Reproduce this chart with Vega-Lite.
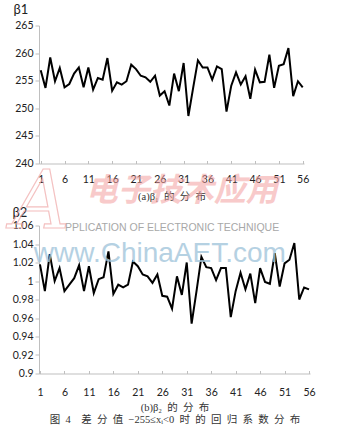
{
  "$schema": "https://vega.github.io/schema/vega-lite/v6.json",
  "background": "white",
  "padding": {"left": 12, "top": 3.5, "right": 5, "bottom": 5},
  "bounds": "flush",
  "spacing": 62,
  "datasets": {
    "b1": [
      {"i":1,"v":256.9},{"i":2,"v":253.7},{"i":3,"v":259.2},{"i":4,"v":254.9},{"i":5,"v":257.3},{"i":6,"v":253.8},{"i":7,"v":254.4},{"i":8,"v":256.3},
      {"i":9,"v":257.4},{"i":10,"v":253.8},{"i":11,"v":257.4},{"i":12,"v":253.4},{"i":13,"v":255.5},{"i":14,"v":255.2},{"i":15,"v":259.1},{"i":16,"v":253.2},
      {"i":17,"v":254.7},{"i":18,"v":254.3},{"i":19,"v":254.9},{"i":20,"v":257.9},{"i":21,"v":257.1},{"i":22,"v":255.9},{"i":23,"v":255.6},{"i":24,"v":254.8},
      {"i":25,"v":255.9},{"i":26,"v":252.3},{"i":27,"v":253.1},{"i":28,"v":250.5},{"i":29,"v":256.3},{"i":30,"v":253.1},{"i":31,"v":258.2},{"i":32,"v":248.6},
      {"i":33,"v":253.7},{"i":34,"v":258.7},{"i":35,"v":257.4},{"i":36,"v":257.4},{"i":37,"v":255.2},{"i":38,"v":257.6},{"i":39,"v":257.1},{"i":40,"v":249.4},
      {"i":41,"v":254.1},{"i":42,"v":256.5},{"i":43,"v":254.3},{"i":44,"v":255.8},{"i":45,"v":251.7},{"i":46,"v":257.0},{"i":47,"v":254.7},{"i":48,"v":254.8},
      {"i":49,"v":259.7},{"i":50,"v":253.7},{"i":51,"v":257.7},{"i":52,"v":258.0},{"i":53,"v":260.9},{"i":54,"v":252.2},{"i":55,"v":254.9},{"i":56,"v":253.8}
    ],
    "b2": [
      {"i":1,"v":1.018},{"i":2,"v":0.989},{"i":3,"v":1.029},{"i":4,"v":1.000},{"i":5,"v":1.014},{"i":6,"v":0.989},{"i":7,"v":0.996},{"i":8,"v":1.003},
      {"i":9,"v":1.017},{"i":10,"v":0.989},{"i":11,"v":1.016},{"i":12,"v":0.987},{"i":13,"v":1.002},{"i":14,"v":1.004},{"i":15,"v":1.032},{"i":16,"v":0.986},
      {"i":17,"v":0.996},{"i":18,"v":0.993},{"i":19,"v":0.996},{"i":20,"v":1.021},{"i":21,"v":1.016},{"i":22,"v":1.007},{"i":23,"v":1.005},{"i":24,"v":0.998},
      {"i":25,"v":1.007},{"i":26,"v":0.984},{"i":27,"v":0.983},{"i":28,"v":0.970},{"i":29,"v":1.005},{"i":30,"v":0.985},{"i":31,"v":1.020},{"i":32,"v":0.954},
      {"i":33,"v":0.989},{"i":34,"v":1.026},{"i":35,"v":1.015},{"i":36,"v":1.014},{"i":37,"v":1.001},{"i":38,"v":1.014},{"i":39,"v":1.014},{"i":40,"v":0.961},
      {"i":41,"v":0.989},{"i":42,"v":1.009},{"i":43,"v":0.991},{"i":44,"v":1.008},{"i":45,"v":0.976},{"i":46,"v":1.014},{"i":47,"v":0.999},{"i":48,"v":0.997},
      {"i":49,"v":1.030},{"i":50,"v":0.994},{"i":51,"v":1.019},{"i":52,"v":1.023},{"i":53,"v":1.041},{"i":54,"v":0.980},{"i":55,"v":0.993},{"i":56,"v":0.991}
    ]
  },
  "vconcat": [
    {
      "width": 265,
      "height": 138,
      "layer": [
        {
          "data": {"name": "b1"},
          "mark": {"type": "line", "color": "#000000", "strokeWidth": 2},
          "encoding": {
            "x": {
              "field": "i", "type": "quantitative",
              "scale": {"domain": [0.64, 56.27], "nice": false, "zero": false},
              "axis": {"values": [1, 6, 11, 16, 21, 26, 31, 36, 41, 46, 51, 56], "tickCount": 100, "format": "d", "tickSize": -3, "labelPadding": 14, "labelOverlap": false,
                       "title": "(a)β₁\u2002的\u2002分\u2002布", "titlePadding": 6}
            },
            "y": {
              "field": "v", "type": "quantitative",
              "scale": {"domain": [240, 265], "nice": false, "zero": false},
              "axis": {"values": [240, 245, 250, 255, 260, 265], "tickCount": 100, "format": "d", "labelOverlap": false, "title": "β1",
                       "titleAngle": 0, "titleAlign": "left", "titleBaseline": "middle", "titleX": -26, "titleY": -16,
                       "titleFont": "Lato", "titleFontSize": 13, "titleColor": "#222"}
            }
          }
        },
        {
          "data": {"values": [{}]},
          "mark": {"type": "text", "font": "Noto Sans CJK SC", "fontSize": 32, "fontWeight": "bold", "fontStyle": "italic", "color": "#f3a0a0", "opacity": 0.55, "align": "center", "baseline": "middle"},
          "encoding": {
            "x": {"datum": 30.6, "type": "quantitative"},
            "y": {"datum": 235.0, "type": "quantitative"},
            "text": {"value": "电子技术应用"}
          }
        }
      ]
    },
    {
      "width": 271,
      "height": 148,
      "layer": [
        {
          "data": {"name": "b2"},
          "mark": {"type": "line", "color": "#000000", "strokeWidth": 2},
          "encoding": {
            "x": {
              "field": "i", "type": "quantitative",
              "scale": {"domain": [0.8, 56.2], "nice": false, "zero": false},
              "axis": {"values": [1, 6, 11, 16, 21, 26, 31, 36, 41, 46, 51, 56], "tickCount": 100, "format": "d", "tickSize": -3, "labelPadding": 17, "labelOverlap": false,
                       "title": ["(b)β₂\u2002的\u2002分\u2002布", "图\u20024\u2002\u2002差\u2002分\u2002值\u2002−255≤xᵢ<0\u2002时\u2002的\u2002回\u2002归\u2002系\u2002数\u2002分\u2002布"], "titlePadding": 4, "titleLineHeight": 12}
            },
            "y": {
              "field": "v", "type": "quantitative",
              "scale": {"domain": [0.9, 1.06], "nice": false, "zero": false},
              "axis": {"values": [0.9, 0.92, 0.94, 0.96, 0.98, 1, 1.02, 1.04, 1.06], "tickCount": 100, "format": "~g", "labelOverlap": false, "title": "β2",
                       "titleAngle": 0, "titleAlign": "left", "titleBaseline": "middle", "titleX": -27, "titleY": -13,
                       "titleFont": "Lato", "titleFontSize": 13, "titleColor": "#222"}
            }
          }
        },
        {
          "data": {"values": [{}]},
          "mark": {"type": "text", "font": "Liberation Sans", "fontSize": 28, "color": "#a3c6dc", "opacity": 0.8, "align": "center", "baseline": "middle"},
          "encoding": {
            "x": {"datum": 25.5, "type": "quantitative"},
            "y": {"datum": 1.0297, "type": "quantitative"},
            "text": {"value": "www.ChinaAET.com"}
          }
        },
        {
          "data": {"values": [{}]},
          "mark": {"type": "text", "font": "Liberation Sans", "fontSize": 10.5, "color": "#a8a8a8", "align": "center", "baseline": "middle"},
          "encoding": {
            "x": {"datum": 28.0, "type": "quantitative"},
            "y": {"datum": 1.0578, "type": "quantitative"},
            "text": {"value": "PPLICATION OF ELECTRONIC TECHNIQUE"}
          }
        },
        {
          "data": {"values": [{}]},
          "mark": {"type": "text", "font": "DejaVu Serif", "fontSize": 80, "fontStyle": "italic", "fill": null, "stroke": "#f0a8a8", "strokeWidth": 1.2, "opacity": 0.7, "align": "center", "baseline": "middle"},
          "encoding": {
            "x": {"datum": 1.2, "type": "quantitative"},
            "y": {"datum": 1.083, "type": "quantitative"},
            "text": {"value": "A"}
          }
        }
      ]
    }
  ],
  "config": {
    "view": {"stroke": null},
    "axis": {
      "grid": false,
      "domainColor": "#bfbfbf",
      "tickColor": "#bfbfbf",
      "tickSize": 4,
      "labelColor": "#222",
      "labelFont": "Lato",
      "labelFontSize": 10.5,
      "labelPadding": 2,
      "labelOverlap": false,
      "labelBound": false,
      "labelFlush": false,
      "titleFont": "Liberation Serif, Noto Sans CJK SC",
      "titleFontWeight": "normal",
      "titleFontSize": 10.5,
      "titleColor": "#333"
    }
  }
}
